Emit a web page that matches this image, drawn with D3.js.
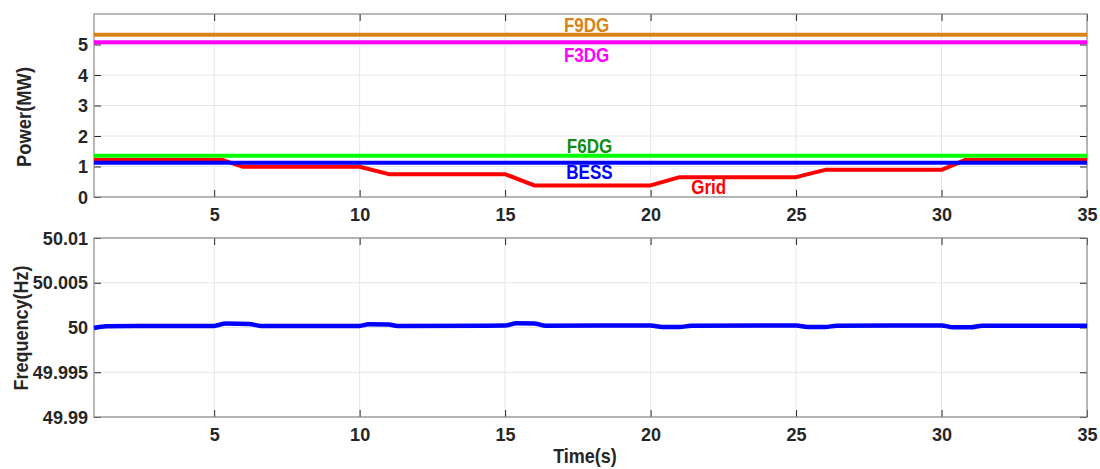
<!DOCTYPE html>
<html>
<head>
<meta charset="utf-8">
<script src="https://cdn.jsdelivr.net/npm/d3@7"></script>
<style>
  body { margin: 0; background: #fff; }
  svg text { font-family: "Liberation Sans", Arial, Helvetica, sans-serif; font-weight: bold; }
</style>
</head>
<body>
<svg id="chart" width="1100" height="469"></svg>
<script>
// Time breakpoints (s) and power (MW) for each source
const powerTime = [0.87, 5.3, 6, 10, 11, 15, 16, 20, 21, 25, 26, 30, 30.8, 35];
const gridPower = [1.21, 1.21, 0.99, 0.99, 0.75, 0.75, 0.38, 0.38, 0.65, 0.65, 0.89, 0.89, 1.21, 1.21];
const constTime = [0.87, 35];
const f9dgPower = [5.32, 5.32];
const f3dgPower = [5.07, 5.07];
const f6dgPower = [1.35, 1.35];
const bessPower = [1.12, 1.12];

// System frequency (Hz)
const freqTime = [0.87, 1.3, 5.0, 5.4, 6.2, 6.6, 10.0, 10.3, 11.0, 11.3, 15.0, 15.4, 16.0, 16.4, 20.0, 20.4, 21.0, 21.4, 25.0, 25.4, 26.0, 26.4, 30.0, 30.4, 31.0, 31.4, 35];
const freqValue = [49.99995, 50.00015, 50.00018, 50.00045, 50.0004, 50.00018, 50.00018, 50.00035, 50.00033, 50.00018, 50.00022, 50.00048, 50.00045, 50.0002, 50.00022, 50.00005, 50.00005, 50.0002, 50.00022, 50.00005, 50.00005, 50.0002, 50.00022, 50.00002, 50.00002, 50.0002, 50.0002];

const xTicks = [5, 10, 15, 20, 25, 30, 35];
const powerTicks = [0, 1, 2, 3, 4, 5];
const freqTicks = [49.99, 49.995, 50, 50.005, 50.01];
const freqTickLabels = ["49.99", "49.995", "50", "50.005", "50.01"];

const seriesTop = [
  { name: "F9DG", t: constTime, v: f9dgPower, color: "#D9821A", label: "#D9821A", lx: 17.8, ly: 5.42 },
  { name: "F3DG", t: constTime, v: f3dgPower, color: "#FF00FF", label: "#FF00FF", lx: 17.8, ly: 4.43 },
  { name: "F6DG", t: constTime, v: f6dgPower, color: "#00FF00", label: "#178A17", lx: 17.9, ly: 1.45 },
  { name: "Grid", t: powerTime, v: gridPower, color: "#FF0000", label: "#FF0000", lx: 22.0, ly: 0.1 },
  { name: "BESS", t: constTime, v: bessPower, color: "#0000FF", label: "#0000FF", lx: 17.9, ly: 0.59 }
];

const svg = d3.select("#chart");
const left = 94, right = 1087;
const x = d3.scaleLinear().domain([0.87, 35]).range([left, right]);
const yP = d3.scaleLinear().domain([0, 6]).range([197, 14]);
const yF = d3.scaleLinear().domain([49.99, 50.01]).range([417, 238]);

// horizontally narrow a text element around its own anchor
function condense(sel, k) {
  sel.each(function () {
    const t = d3.select(this);
    const xx = +t.attr("x") || 0;
    const prev = t.attr("transform") || "";
    t.attr("x", xx / k).attr("transform", `${prev} scale(${k},1)`);
  });
}

function panel(y, yTicks, yFmt) {
  const g = svg.append("g");
  const [y0, y1] = y.range();
  // grid
  g.selectAll(".gx").data(xTicks).join("line")
    .attr("x1", d => x(d)).attr("x2", d => x(d)).attr("y1", y1).attr("y2", y0)
    .attr("stroke", "#e6e6e6").attr("stroke-width", 1);
  g.selectAll(".gy").data(yTicks).join("line")
    .attr("x1", left).attr("x2", right).attr("y1", d => y(d)).attr("y2", d => y(d))
    .attr("stroke", "#e6e6e6").attr("stroke-width", 1);
  // axes
  const ax = g.append("g").attr("transform", `translate(0,${y0})`)
    .call(d3.axisBottom(x).tickValues(xTicks).tickSizeInner(-7).tickSizeOuter(0).tickPadding(11));
  const axT = g.append("g").attr("transform", `translate(0,${y1})`)
    .call(d3.axisTop(x).tickValues(xTicks).tickSizeInner(-7).tickSizeOuter(0).tickFormat(""));
  const ay = g.append("g").attr("transform", `translate(${left},0)`)
    .call(d3.axisLeft(y).tickValues(yTicks).tickSizeInner(-7).tickSizeOuter(0).tickPadding(6).tickFormat(yFmt));
  const ayR = g.append("g").attr("transform", `translate(${right},0)`)
    .call(d3.axisRight(y).tickValues(yTicks).tickSizeInner(-7).tickSizeOuter(0).tickFormat(""));
  [ax, axT, ay, ayR].forEach(a => {
    a.select(".domain").remove();
    a.selectAll(".tick line").attr("stroke", "#262626").attr("stroke-width", 1);
    a.selectAll(".tick text").attr("fill", "#262626").attr("font-size", 19);
  });
  condense(ax.selectAll(".tick text"), 0.95);
  condense(ay.selectAll(".tick text"), 0.95);
  g.append("rect").attr("x", left).attr("y", y1).attr("width", right - left).attr("height", y0 - y1)
    .attr("fill", "none").attr("stroke", "#8a8a8a").attr("stroke-width", 1.2);
  return g;
}

panel(yP, powerTicks, d3.format("d"));
panel(yF, freqTicks, d => freqTickLabels[freqTicks.indexOf(d)]);

// power lines
const lineP = d3.line().x(d => x(d[0])).y(d => yP(d[1]));
const drawOrder = ["F9DG", "F3DG", "F6DG", "Grid", "BESS"];
drawOrder.forEach(n => {
  const s = seriesTop.find(s => s.name === n);
  svg.append("path").datum(s.t.map((t, i) => [t, s.v[i]]))
    .attr("d", lineP).attr("fill", "none").attr("stroke", s.color)
    .attr("stroke-width", 4).attr("stroke-linejoin", "round");
});
seriesTop.forEach(s => {
  svg.append("text").attr("x", x(s.lx)).attr("y", yP(s.ly)).attr("text-anchor", "middle")
    .attr("fill", s.label).attr("font-size", 20).text(s.name)
    .call(condense, 0.85);
});

// frequency line
const lineF = d3.line().x(d => x(d[0])).y(d => yF(d[1])).curve(d3.curveMonotoneX);
svg.append("path").datum(freqTime.map((t, i) => [t, freqValue[i]]))
  .attr("d", lineF).attr("fill", "none").attr("stroke", "#0000FF").attr("stroke-width", 4.5);

// axis titles
svg.append("text").attr("transform", "translate(31,117) rotate(-90)").attr("text-anchor", "middle")
  .attr("fill", "#262626").attr("font-size", 20).text("Power(MW)").call(condense, 0.92);
svg.append("text").attr("transform", "translate(28,328) rotate(-90)").attr("text-anchor", "middle")
  .attr("fill", "#262626").attr("font-size", 20).text("Frequency(Hz)").call(condense, 0.9);
svg.append("text").attr("x", 585).attr("y", 463).attr("text-anchor", "middle")
  .attr("fill", "#262626").attr("font-size", 20).text("Time(s)").call(condense, 0.9);
</script>
</body>
</html>
